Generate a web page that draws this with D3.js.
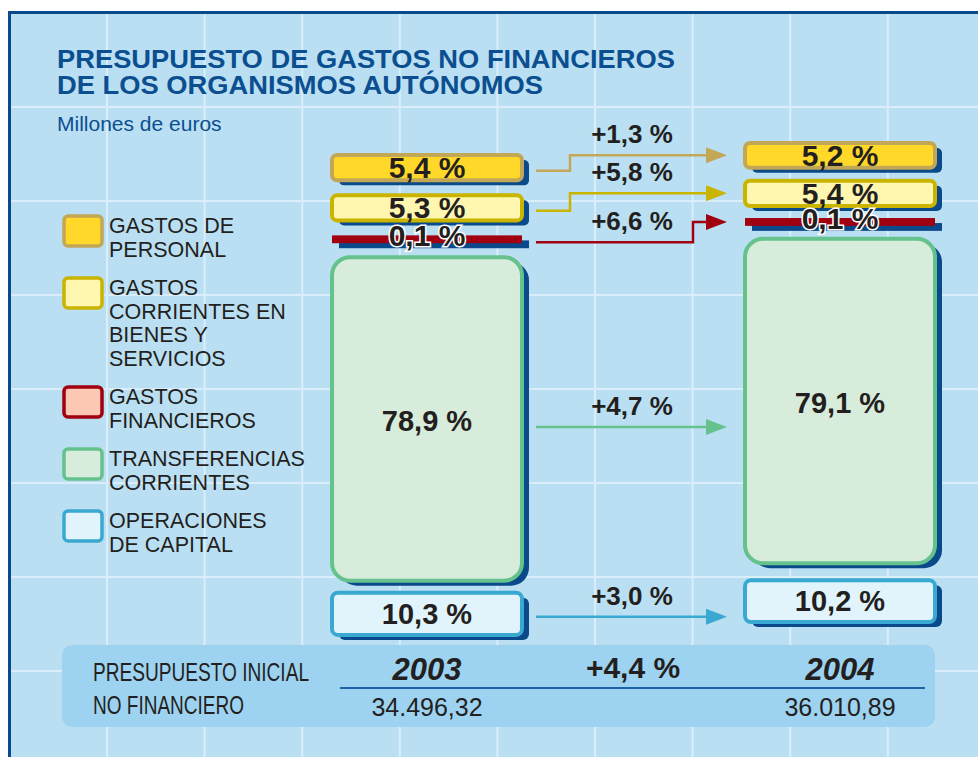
<!DOCTYPE html>
<html>
<head>
<meta charset="utf-8">
<script src="https://cdn.jsdelivr.net/npm/d3@7"></script>
<style>
  body { margin: 0; background: #fff; }
  svg text { font-family: "Liberation Sans", Arial, sans-serif; }
</style>
</head>
<body>
<div id="chart"></div>
<script>
// data
var years = ["2003", "2004"];
var categories = ["GASTOS DE PERSONAL", "GASTOS CORRIENTES EN BIENES Y SERVICIOS",
  "GASTOS FINANCIEROS", "TRANSFERENCIAS CORRIENTES", "OPERACIONES DE CAPITAL"];
var legendLines = [["GASTOS DE", "PERSONAL"], ["GASTOS", "CORRIENTES EN", "BIENES Y", "SERVICIOS"],
  ["GASTOS", "FINANCIEROS"], ["TRANSFERENCIAS", "CORRIENTES"], ["OPERACIONES", "DE CAPITAL"]];
var share2003 = [5.4, 5.3, 0.1, 78.9, 10.3];
var share2004 = [5.2, 5.4, 0.1, 79.1, 10.2];
var growth = [1.3, 5.8, 6.6, 4.7, 3.0];
var totals = [34496.32, 36010.89];
var totalGrowth = 4.4;

var fills = ["#ffd82a", "#fff6b0", "#a0000f", "#d8ecdc", "#e1f4fb"];
var strokes = ["#c2a756", "#c9b400", "#a0000f", "#66c28c", "#3aa9d1"];
var legendFills = ["#ffd82a", "#fff6b0", "#fdc8b4", "#d8ecdc", "#e1f4fb"];
var navy = "#0b4a8a", ink = "#231f20";

var es = d3.formatLocale({decimal: ",", thousands: ".", grouping: [3], currency: ["", " €"]});
var pct = function(v) { return es.format(".1f")(v) + " %"; };
var plus = function(v) { return "+" + es.format(".1f")(v) + " %"; };
var money = es.format(",.2f");

var W = 978, H = 757;
var svg = d3.select("#chart").append("svg").attr("width", W).attr("height", H);

// background panel + grid
svg.append("rect").attr("x", 9).attr("y", 12).attr("width", W).attr("height", H).attr("fill", "#badff3");
var gx = d3.range(0, 9).map(function(k) { return 107 + k * 97.6; });
var gy = d3.range(0, 7).map(function(k) { return 107 + k * 94; });
svg.append("g").selectAll("line").data(gx).enter().append("line")
  .attr("x1", function(d) { return d; }).attr("x2", function(d) { return d; })
  .attr("y1", 14).attr("y2", H).attr("stroke", "#d9eefa").attr("stroke-width", 2);
svg.append("g").selectAll("line").data(gy).enter().append("line")
  .attr("y1", function(d) { return d; }).attr("y2", function(d) { return d; })
  .attr("x1", 11).attr("x2", W).attr("stroke", "#d9eefa").attr("stroke-width", 2);
svg.append("line").attr("x1", 8).attr("x2", W).attr("y1", 12.5).attr("y2", 12.5)
  .attr("stroke", navy).attr("stroke-width", 3);
svg.append("line").attr("x1", 9.5).attr("x2", 9.5).attr("y1", 11).attr("y2", H)
  .attr("stroke", navy).attr("stroke-width", 3);

// title
var title = svg.append("g").attr("fill", "#0b4f90");
title.append("text").attr("x", 57).attr("y", 68).attr("font-size", 26).attr("font-weight", "bold")
  .attr("textLength", 618).attr("lengthAdjust", "spacingAndGlyphs")
  .text("PRESUPUESTO DE GASTOS NO FINANCIEROS");
title.append("text").attr("x", 57).attr("y", 94).attr("font-size", 26).attr("font-weight", "bold")
  .attr("textLength", 486).attr("lengthAdjust", "spacingAndGlyphs")
  .text("DE LOS ORGANISMOS AUTÓNOMOS");
title.append("text").attr("x", 57).attr("y", 131).attr("font-size", 21).text("Millones de euros");

// legend
var legend = svg.append("g");
var ly = 216;
categories.forEach(function(c, i) {
  legend.append("rect").attr("x", 64).attr("y", ly).attr("width", 38).attr("height", 30).attr("rx", 4)
    .attr("fill", legendFills[i]).attr("stroke", strokes[i]).attr("stroke-width", 3.5);
  legendLines[i].forEach(function(t, j) {
    legend.append("text").attr("x", 109).attr("y", ly + 17 + j * 23.5)
      .attr("font-size", 21.5).attr("fill", ink).text(t);
  });
  ly += legendLines[i].length * 23.5 + 15;
});

// columns
var x = d3.scaleBand().domain(years).range([332, 935]).paddingInner(0.54);
var h = d3.scaleLinear().domain([0, 5, 10, 80]).range([7.5, 24, 41, 328]);
var colTop = {"2003": 155, "2004": 143};
var colGap = {"2003": [15, 15, 14, 12], "2004": [13, 12, 13, 17]};
var radius = [5, 5, 0, 18, 6];

function stack(year, shares) {
  var y = colTop[year];
  return shares.map(function(v, i) {
    var b = {year: year, i: i, v: v, x: x(year), w: x.bandwidth(), y: y, h: h(v)};
    y += b.h + (colGap[year][i] || 0);
    return b;
  });
}
var left = stack("2003", share2003), right = stack("2004", share2004);
var blocks = left.concat(right);

var cols = svg.append("g");
// shadows
cols.selectAll("rect.shadow").data(blocks).enter().append("rect").attr("class", "shadow")
  .attr("x", function(d) { return d.x + 7; }).attr("y", function(d) { return d.y + 5; })
  .attr("width", function(d) { return d.w; }).attr("height", function(d) { return d.h; })
  .attr("rx", function(d) { return radius[d.i]; })
  .attr("fill", navy);
cols.selectAll("rect.box").data(blocks).enter().append("rect").attr("class", "box")
  .attr("x", function(d) { return d.x; }).attr("y", function(d) { return d.y; })
  .attr("width", function(d) { return d.w; }).attr("height", function(d) { return d.h; })
  .attr("rx", function(d) { return radius[d.i]; })
  .attr("fill", function(d) { return fills[d.i]; })
  .attr("stroke", function(d) { return d.i == 2 ? "none" : strokes[d.i]; })
  .attr("stroke-width", 4);

// labels inside blocks
cols.selectAll("text").data(blocks).enter().append("text")
  .attr("x", function(d) { return d.x + d.w / 2; })
  .attr("y", function(d) {
    if (d.i < 3) return d.y + Math.max(d.h, 13) - 2;
    return d.y + d.h / 2 + (d.i == 3 ? 12 : 10);
  })
  .attr("text-anchor", "middle").attr("font-weight", "bold")
  .attr("font-size", function(d) { return d.i < 3 ? 30 : 29; })
  .attr("fill", ink)
  .attr("stroke", function(d) { return d.i == 2 ? "#fff" : "none"; })
  .attr("stroke-width", 3).attr("paint-order", "stroke")
  .text(function(d) { return pct(d.v); });

// growth arrows
var stepX = [570, 570, 693, null, null];
var x0 = x("2003") + x.bandwidth() + 14, tip = x("2004") - 18, x1 = tip - 20;
var arrows = svg.append("g");
growth.forEach(function(g, i) {
  var yL = left[i].y + left[i].h / 2 + (i == 3 ? 8 : 3);
  var yR = stepX[i] ? right[i].y + right[i].h / 2 : yL;
  var pts = stepX[i] ? [[x0, yL], [stepX[i], yL], [stepX[i], yR], [x1, yR]] : [[x0, yL], [x1, yR]];
  arrows.append("path").attr("d", d3.line()(pts)).attr("fill", "none")
    .attr("stroke", strokes[i]).attr("stroke-width", 2.5);
  arrows.append("path").attr("d", d3.line()([[x1 - 1, yR - 8], [tip, yR], [x1 - 1, yR + 8]]) + "Z")
    .attr("fill", strokes[i]);
  var yLab = (stepX[i] && stepX[i] < 632) ? yR : yL;
  arrows.append("text").attr("x", 632).attr("y", yLab - 12).attr("text-anchor", "middle")
    .attr("font-size", 26).attr("font-weight", "bold").attr("fill", ink).text(plus(g));
});

// bottom summary panel
var foot = svg.append("g");
foot.append("rect").attr("x", 62).attr("y", 645).attr("width", 873).attr("height", 82).attr("rx", 10)
  .attr("fill", "#9dd3f1");
foot.append("text").attr("x", 93).attr("y", 681).attr("font-size", 26).attr("fill", ink)
  .attr("textLength", 216).attr("lengthAdjust", "spacingAndGlyphs").text("PRESUPUESTO INICIAL");
foot.append("text").attr("x", 93).attr("y", 714).attr("font-size", 26).attr("fill", ink)
  .attr("textLength", 151).attr("lengthAdjust", "spacingAndGlyphs").text("NO FINANCIERO");
foot.append("line").attr("x1", 340).attr("x2", 925).attr("y1", 688).attr("y2", 688)
  .attr("stroke", "#1b63a6").attr("stroke-width", 2);
years.forEach(function(yr, i) {
  var cx = x(yr) + x.bandwidth() / 2;
  foot.append("text").attr("x", cx).attr("y", 680).attr("text-anchor", "middle")
    .attr("font-size", 31).attr("font-weight", "bold").attr("font-style", "italic").attr("fill", ink).text(yr);
  foot.append("text").attr("x", cx).attr("y", 716).attr("text-anchor", "middle")
    .attr("font-size", 25).attr("fill", ink).text(money(totals[i]));
});
foot.append("text").attr("x", 633).attr("y", 678).attr("text-anchor", "middle")
  .attr("font-size", 30).attr("font-weight", "bold").attr("fill", ink).text(plus(totalGrowth));
</script>
</body>
</html>
